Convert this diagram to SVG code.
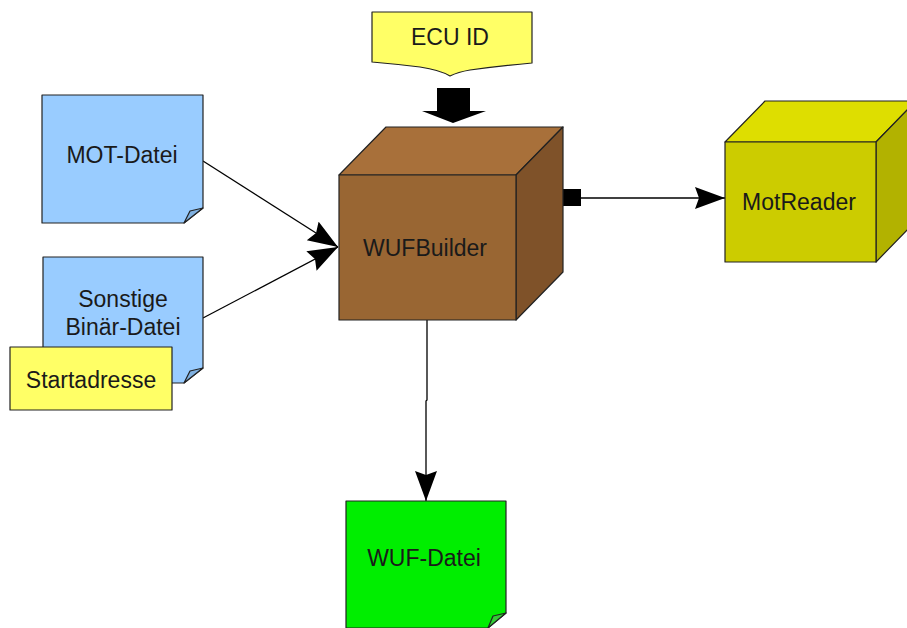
<svg xmlns="http://www.w3.org/2000/svg" width="907" height="628" viewBox="0 0 907 628">
  <style>
    .lbl { font-family: "Liberation Sans", Arial, sans-serif; font-size: 23px; fill: #1a1a1a; text-anchor: middle; }
    .edge { stroke: #000; stroke-width: 1.3; fill: none; }
    .outline { stroke: #222; stroke-width: 1.2; stroke-linejoin: round; }
  </style>
  <defs>
    <marker id="head" markerUnits="userSpaceOnUse" markerWidth="32" markerHeight="24" refX="30" refY="11" orient="auto">
      <path d="M0,0 L30,11 L0,22 L4,11 Z" fill="#000"/>
    </marker>
  </defs>
  <rect width="907" height="628" fill="#fff"/>

  <!-- connectors -->
  <g id="connectors">
    <line class="edge" x1="203" y1="161" x2="338" y2="247" marker-end="url(#head)"/>
    <line class="edge" x1="203" y1="318" x2="338" y2="247" marker-end="url(#head)"/>
    <polyline class="edge" points="427,320 427,400 426,401 426,501" marker-end="url(#head)"/>
    <rect x="563" y="189" width="18" height="17" fill="#000"/>
    <line class="edge" x1="581" y1="198" x2="725" y2="198" marker-end="url(#head)"/>
    <!-- block arrow from ECU ID -->
    <path d="M437,88 L470,88 L470,111 L486,111 L453,123 L422,111 L437,111 Z" fill="#000"/>
  </g>

  <!-- ECU ID -->
  <g id="ecu-id">
    <path class="outline" d="M372,12 L532,12 L532,63 Q500,66 470,70 Q458,72 450,76 Q440,70 420,67 Q395,64 372,62 Z" fill="#ffff66"/>
    <text class="lbl" x="450" y="45">ECU ID</text>
  </g>

  <!-- MOT-Datei -->
  <g id="mot-datei">
    <path class="outline" d="M42,95 L203,95 L203,208 L184,223 L42,223 Z" fill="#99ccff"/>
    <path class="outline" d="M184,223 L203,208 L190,211 Z" fill="#7fb0e0"/>
    <text class="lbl" x="122" y="163">MOT-Datei</text>
  </g>

  <!-- Sonstige Binär-Datei -->
  <g id="binaer-datei">
    <path class="outline" d="M43,257 L203,257 L203,368 L184,383 L43,383 Z" fill="#99ccff"/>
    <path class="outline" d="M184,383 L203,368 L190,371 Z" fill="#7fb0e0"/>
    <text class="lbl" x="123" y="307">Sonstige</text>
    <text class="lbl" x="123" y="335">Binär-Datei</text>
  </g>

  <!-- Startadresse -->
  <g id="startadresse">
    <rect class="outline" x="10" y="347" width="162" height="63" fill="#ffff66"/>
    <text class="lbl" x="91" y="388">Startadresse</text>
  </g>

  <!-- WUFBuilder -->
  <g id="wufbuilder">
    <path class="outline" d="M339,175 L386,127 L563,127 L516,175 Z" fill="#a8703a"/>
    <path class="outline" d="M516,175 L563,127 L563,272 L516,320 Z" fill="#7f5229"/>
    <rect class="outline" x="339" y="175" width="177" height="145" fill="#996633"/>
    <text class="lbl" x="425" y="256">WUFBuilder</text>
  </g>

  <!-- MotReader -->
  <g id="motreader">
    <path class="outline" d="M725,142 L765,101 L916,101 L876,142 Z" fill="#dede00"/>
    <path class="outline" d="M876,142 L916,101 L916,221 L876,262 Z" fill="#b2b200"/>
    <rect class="outline" x="725" y="142" width="151" height="120" fill="#cccc00"/>
    <text class="lbl" x="799" y="210">MotReader</text>
  </g>

  <!-- WUF-Datei -->
  <g id="wuf-datei">
    <path class="outline" d="M346,501 L506,501 L506,613 L488,628 L346,628 Z" fill="#00ee00"/>
    <path class="outline" d="M488,628 L506,613 L493,616 Z" fill="#33cc33"/>
    <text class="lbl" x="424" y="566">WUF-Datei</text>
  </g>
</svg>
